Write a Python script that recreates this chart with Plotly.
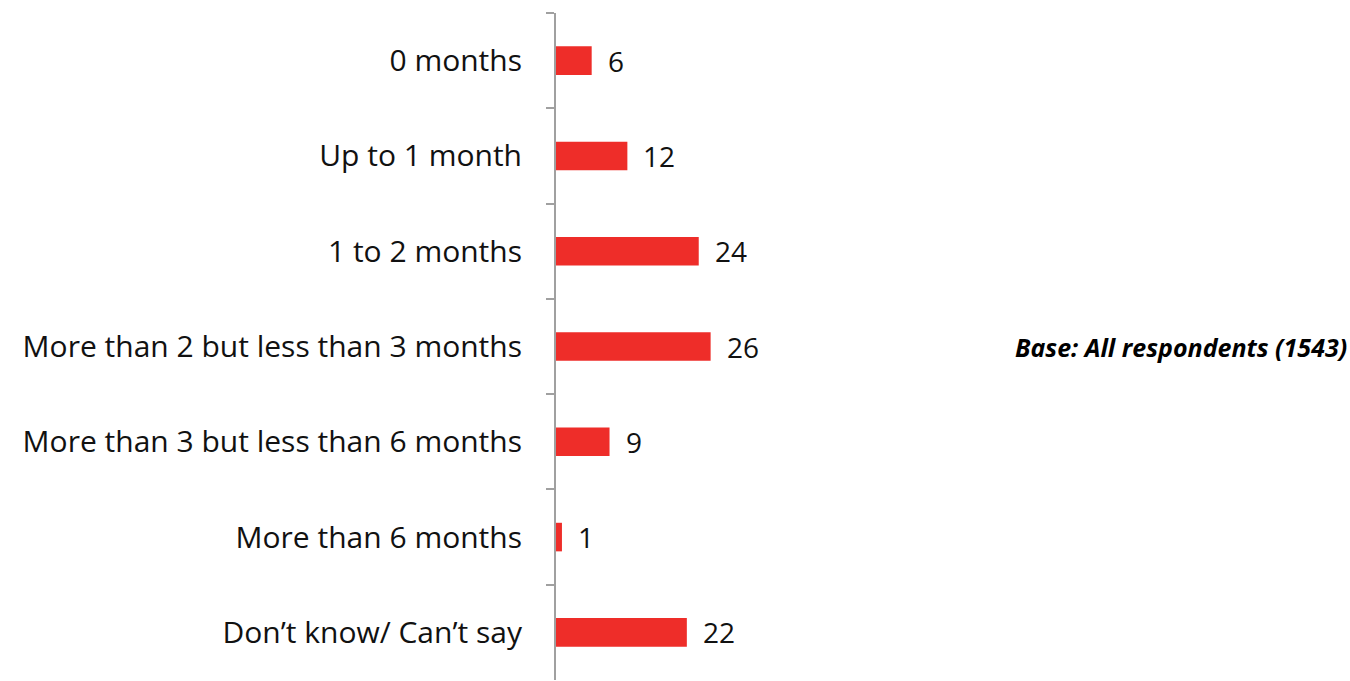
import plotly.graph_objects as go

categories = [
    "0 months",
    "Up to 1 month",
    "1 to 2 months",
    "More than 2 but less than 3 months",
    "More than 3 but less than 6 months",
    "More than 6 months",
    "Don\u2019t know/ Can\u2019t say",
]
values = [6, 12, 24, 26, 9, 1, 22]
base_note = "Base: All respondents (1543)"

BAR_COLOR = "#EE2D29"
FONT = "Open Sans"

fig = go.Figure(
    go.Bar(
        x=values,
        y=categories,
        orientation="h",
        marker=dict(color=BAR_COLOR, line=dict(width=0)),
        width=0.3,
        hoverinfo="skip",
    )
)

# value labels just past each bar end
for cat, val in zip(categories, values):
    fig.add_annotation(
        x=val, y=cat, xref="x", yref="y",
        text=str(val), showarrow=False,
        xanchor="left", yanchor="middle", xshift=14, yshift=0,
        font=dict(family=FONT, size=28, color="#111111"),
    )

fig.add_annotation(
    x=1, y=0.5, xref="paper", yref="paper",
    xanchor="right", yanchor="middle",
    text="<b><i>" + base_note + "</i></b>", showarrow=False,
    font=dict(family=FONT, size=25, color="#000000"),
    xshift=2,
)

fig.update_layout(
    width=1350, height=681,
    margin=dict(l=556, r=3, t=13, b=1),
    paper_bgcolor="white", plot_bgcolor="white",
    showlegend=False,
    xaxis=dict(range=[0, 133], visible=False),
    yaxis=dict(
        categoryorder="array", categoryarray=categories,
        autorange="reversed",
        showline=True, linecolor="#A0A0A0", linewidth=2,
        ticks="outside", tickson="boundaries", ticklen=8, tickcolor="#A0A0A0",
        tickwidth=1.5, showgrid=False, zeroline=False,
        ticklabelstandoff=26,
        tickfont=dict(family=FONT, size=30, color="#111111"),
    ),
)

fig.write_html("out.html")
